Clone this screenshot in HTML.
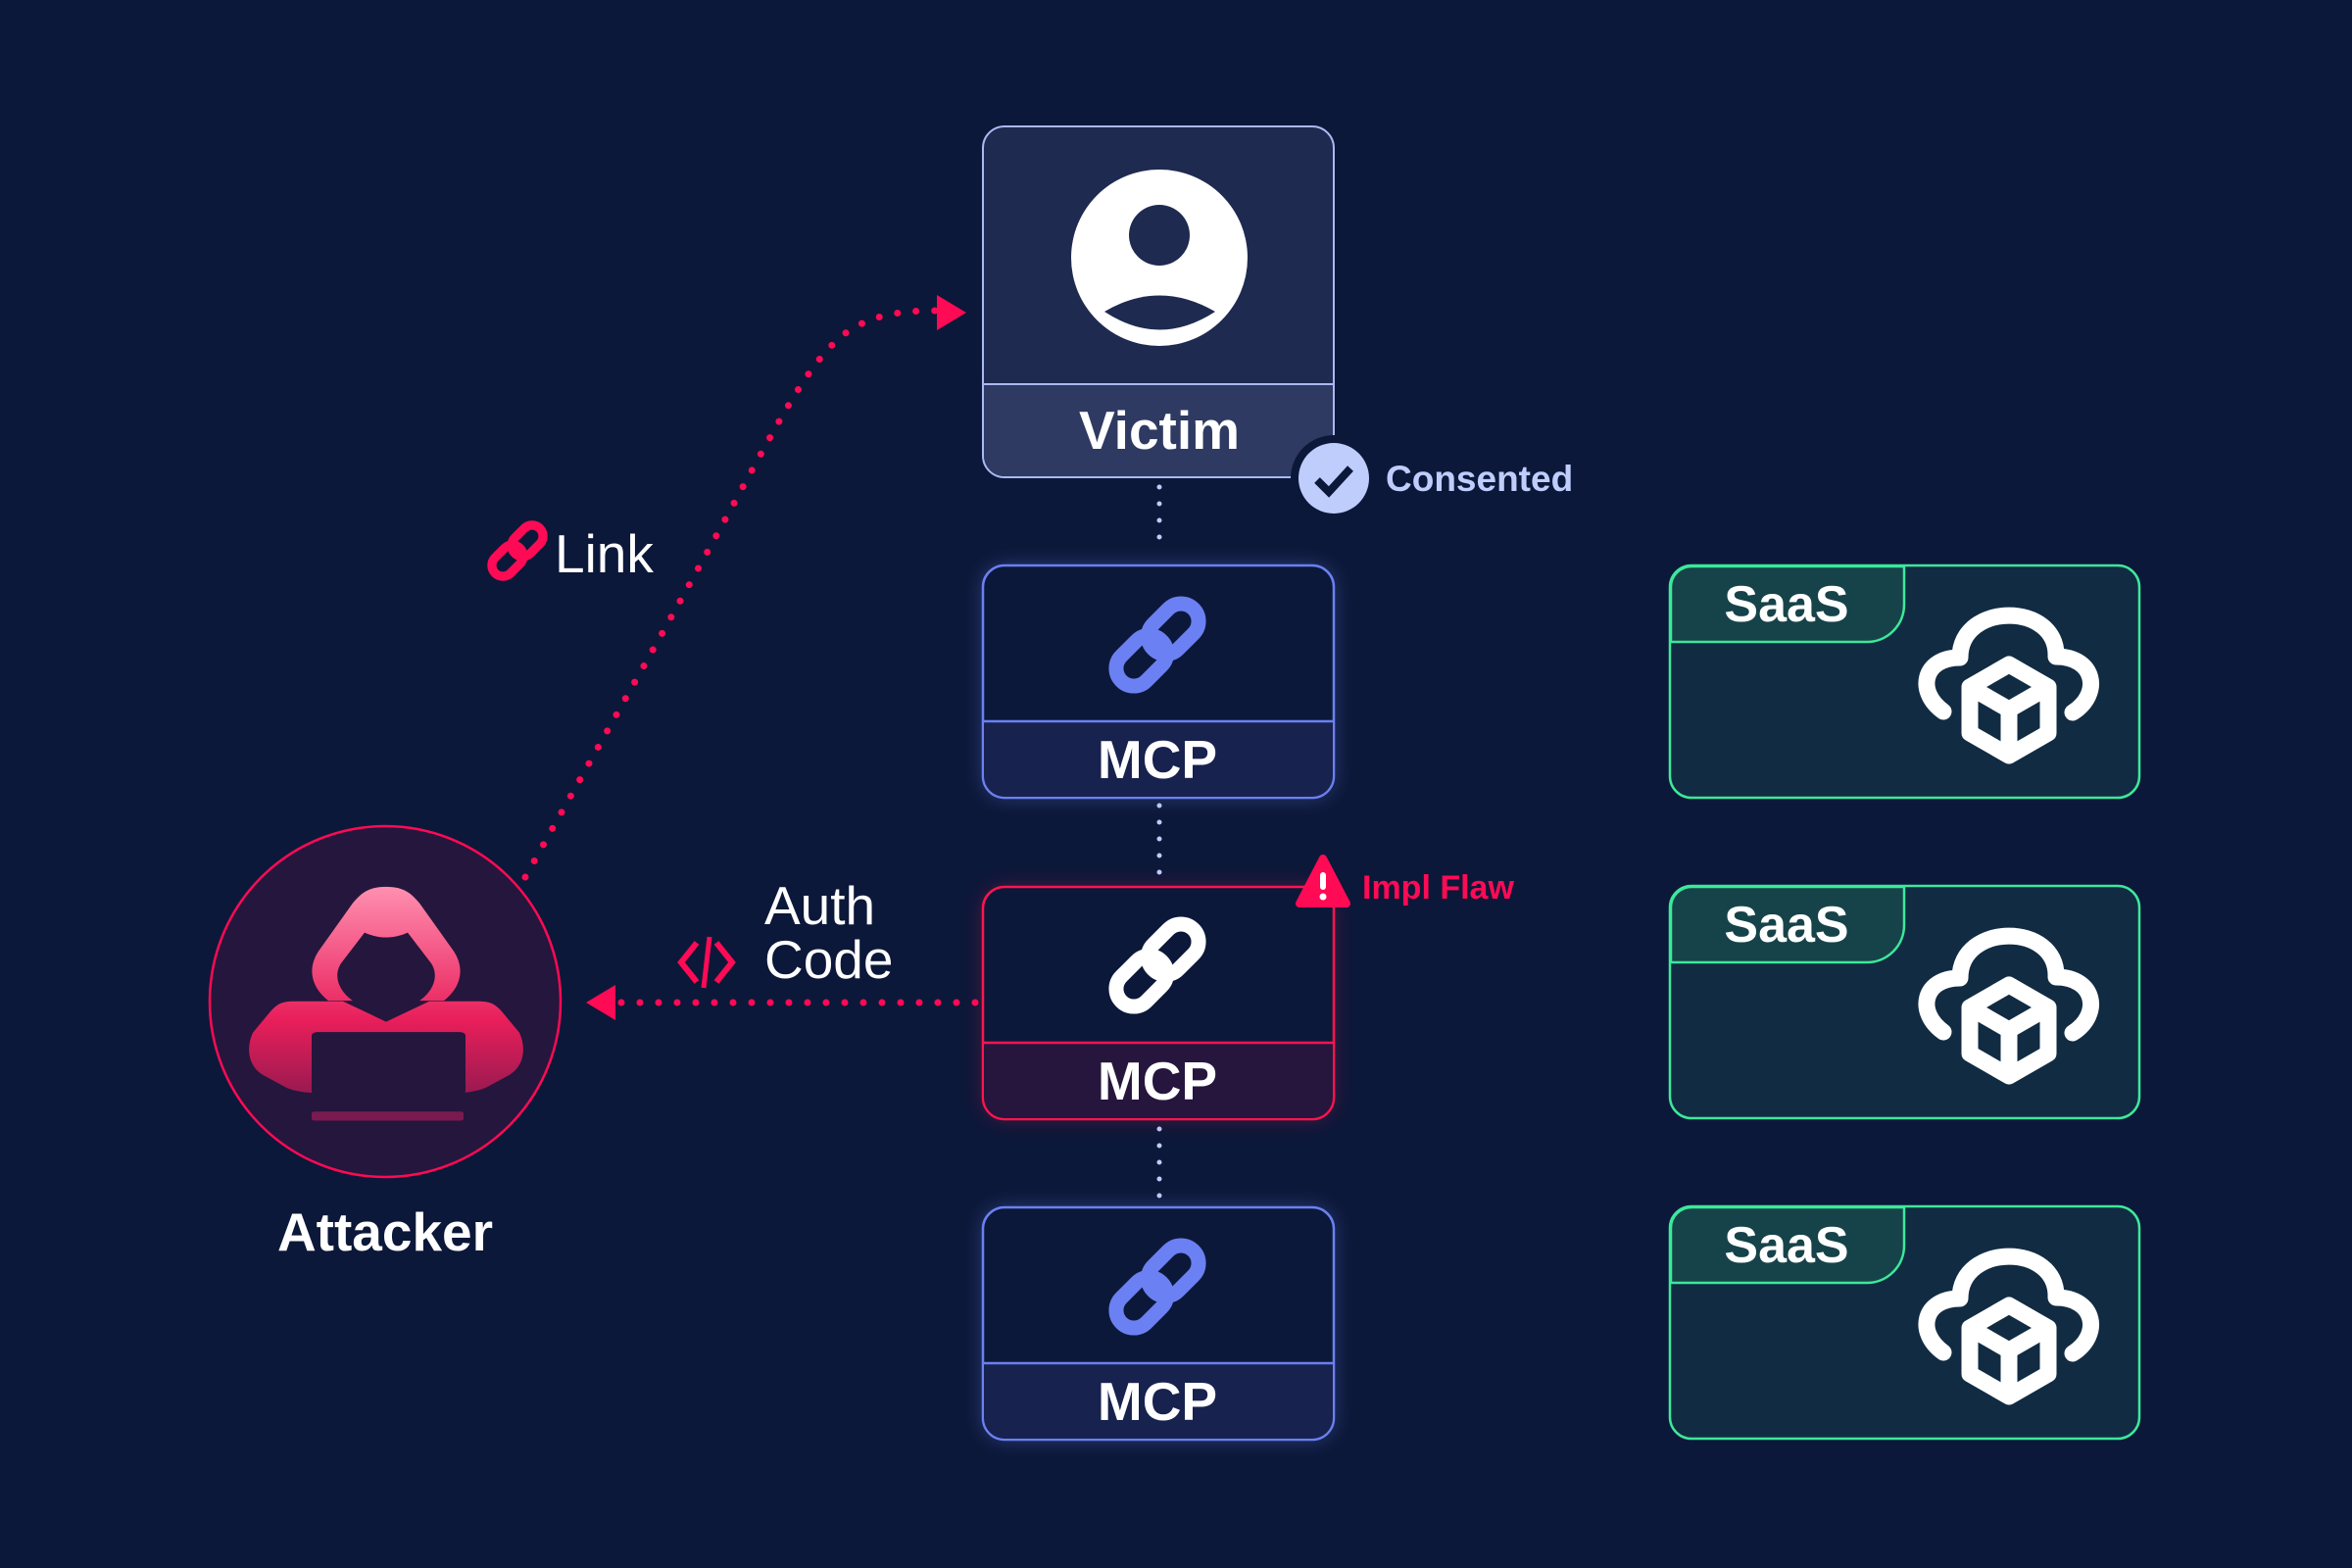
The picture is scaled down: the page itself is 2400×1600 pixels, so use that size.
<!DOCTYPE html>
<html><head><meta charset="utf-8"><style>
html,body{margin:0;padding:0;background:#0c1839;}
svg{display:block;}
text{font-family:"Liberation Sans",sans-serif;}
</style></head><body>
<svg width="2400" height="1600" viewBox="0 0 2400 1600" xmlns="http://www.w3.org/2000/svg">
<defs>
<linearGradient id="lb" x1="0" x2="1"><stop offset="0" stop-color="#6b80f2"/><stop offset="1" stop-color="#3de89a"/></linearGradient>
<linearGradient id="lr" x1="0" x2="1"><stop offset="0" stop-color="#ff1450"/><stop offset="1" stop-color="#3de89a"/></linearGradient>
<linearGradient id="hk" gradientUnits="userSpaceOnUse" x1="0" y1="958" x2="0" y2="1300"><stop offset="0" stop-color="#ff8fb0"/><stop offset="0.65" stop-color="#e81e5a"/><stop offset="1" stop-color="#9a1a50"/></linearGradient>
<filter id="glow" x="-20%" y="-20%" width="140%" height="140%"><feGaussianBlur stdDeviation="10"/></filter>
<g id="chain">
<rect x="-18" y="-52" width="36" height="58" rx="18" transform="rotate(45)" fill="none" stroke-width="15"/>
<rect x="-18" y="-6" width="36" height="58" rx="18" transform="rotate(45)" fill="none" stroke-width="15"/>
</g>
<g id="cloud" fill="none" stroke="#fff" stroke-width="17" stroke-linecap="round" stroke-linejoin="round">
<path d="M-67 30 C-95 10 -88 -25 -50 -25 C-50 -82 50 -82 48 -26 C88 -26 95 12 65 31"/>
<path d="M0 -18 L40 5 L40 52 L0 75 L-40 52 L-40 5 Z M-40 5 L0 28 L40 5 M0 28 L0 75" fill="#112b42"/>
</g>
</defs>

<!-- connectors -->
<line x1="1361" y1="697" x2="1704" y2="697" stroke="url(#lb)" stroke-width="2"/>
<line x1="1361" y1="1024" x2="1704" y2="1024" stroke="url(#lr)" stroke-width="2"/>
<line x1="1361" y1="1351" x2="1704" y2="1351" stroke="url(#lb)" stroke-width="2"/>
<g stroke="#bfcdfd" stroke-width="5" stroke-linecap="round" stroke-dasharray="0 17">
<line x1="1183" y1="497" x2="1183" y2="565"/>
<line x1="1183" y1="822" x2="1183" y2="900"/>
<line x1="1183" y1="1152" x2="1183" y2="1225"/>
</g>

<!-- Victim -->
<rect x="1003" y="129" width="358" height="358" rx="22" fill="#1f2a50" stroke="#aab9f0" stroke-width="2"/>
<path d="M1004 392 H1360 V465 a21 21 0 0 1 -21 21 H1025 a21 21 0 0 1 -21 -21 Z" fill="#2e3a62"/>
<line x1="1003" y1="392" x2="1361" y2="392" stroke="#aab9f0" stroke-width="2"/>
<circle cx="1183" cy="263" r="90" fill="#fff"/>
<circle cx="1183" cy="240" r="31" fill="#1f2a50"/>
<path d="M1127 318 Q1183 285 1240 318 Q1183 355 1127 318 Z" fill="#1f2a50"/>
<text x="1183" y="458" font-size="55" font-weight="bold" fill="#fff" text-anchor="middle">Victim</text>
<circle cx="1361" cy="488" r="44" fill="#0c1839"/>
<circle cx="1361" cy="488" r="36" fill="#bfcdfd"/>
<path d="M1344 490 L1356 502 L1378 478" fill="none" stroke="#0c1839" stroke-width="8"/>
<text x="1414" y="501" font-size="37" font-weight="bold" fill="#bfcdfd">Consented</text>

<!-- MCP boxes -->
<g>
<rect x="1003" y="577" width="358" height="237" rx="22" fill="#6b80f2" opacity="0.35" filter="url(#glow)"/>
<rect x="1003" y="577" width="358" height="237" rx="22" fill="#0c1839" stroke="#6b80f2" stroke-width="2.5"/>
<path d="M1004 736 H1360 V792 a21 21 0 0 1 -21 21 H1025 a21 21 0 0 1 -21 -21 Z" fill="#18224f"/>
<line x1="1003" y1="736" x2="1361" y2="736" stroke="#6b80f2" stroke-width="2.5"/>
<use href="#chain" x="1181" y="658" stroke="#6b80f2"/>
<text x="1181" y="794" font-size="55" font-weight="bold" fill="#fff" text-anchor="middle">MCP</text>
</g>
<g>
<rect x="1003" y="905" width="358" height="237" rx="22" fill="#ff1450" opacity="0.25" filter="url(#glow)"/>
<rect x="1003" y="905" width="358" height="237" rx="22" fill="#0c1839" stroke="#ff1450" stroke-width="2.5"/>
<path d="M1004 1064 H1360 V1120 a21 21 0 0 1 -21 21 H1025 a21 21 0 0 1 -21 -21 Z" fill="#26163d"/>
<line x1="1003" y1="1064" x2="1361" y2="1064" stroke="#ff1450" stroke-width="2.5"/>
<use href="#chain" x="1181" y="985" stroke="#fff"/>
<text x="1181" y="1122" font-size="55" font-weight="bold" fill="#fff" text-anchor="middle">MCP</text>
</g>
<g>
<rect x="1003" y="1232" width="358" height="237" rx="22" fill="#6b80f2" opacity="0.35" filter="url(#glow)"/>
<rect x="1003" y="1232" width="358" height="237" rx="22" fill="#0c1839" stroke="#6b80f2" stroke-width="2.5"/>
<path d="M1004 1391 H1360 V1447 a21 21 0 0 1 -21 21 H1025 a21 21 0 0 1 -21 -21 Z" fill="#18224f"/>
<line x1="1003" y1="1391" x2="1361" y2="1391" stroke="#6b80f2" stroke-width="2.5"/>
<use href="#chain" x="1181" y="1313" stroke="#6b80f2"/>
<text x="1181" y="1449" font-size="55" font-weight="bold" fill="#fff" text-anchor="middle">MCP</text>
</g>

<!-- Impl flaw -->
<path d="M1350 876 L1374 922 L1326 922 Z" fill="#ff0a54" stroke="#ff0a54" stroke-width="8" stroke-linejoin="round"/>
<rect x="1347" y="890" width="6" height="18" rx="3" fill="#fff"/>
<circle cx="1350" cy="915" r="3.5" fill="#fff"/>
<text x="1390" y="917" font-size="34" font-weight="bold" fill="#ff0a54">Impl Flaw</text>

<!-- SaaS boxes -->
<g id="saas">
<rect x="1704" y="577" width="479" height="237" rx="22" fill="#112b42" stroke="#3de89a" stroke-width="2.5"/>
<path d="M1705 655 V599 a21 21 0 0 1 21 -21 H1943 V617 a38 38 0 0 1 -38 38 Z" fill="#164349" stroke="#3de89a" stroke-width="2.5"/>
<text x="1823" y="634" font-size="52" font-weight="bold" fill="#fff" text-anchor="middle">SaaS</text>
<use href="#cloud" x="2050" y="696"/>
</g>
<use href="#saas" y="327"/>
<use href="#saas" y="654"/>

<!-- Attacker -->
<circle cx="393" cy="1022" r="179" fill="#25163d" stroke="#ff0a54" stroke-width="2.5"/>
<g transform="translate(0 820) scale(1 0.615) translate(0 -820)">
<path d="M394 958 C375 958 368 970 360 985 L325 1065 C313 1095 318 1125 335 1147 L360 1147 C345 1130 340 1105 348 1085 L372 1034 C380 1040 388 1042 394 1042 C400 1042 408 1040 416 1034 L440 1085 C448 1105 443 1130 428 1147 L453 1147 C470 1125 475 1095 463 1065 L428 985 C420 970 413 958 394 958 Z" fill="url(#hk)"/>
<path d="M300 1148 L350 1148 L394 1182 L438 1148 L488 1148 C500 1148 505 1152 512 1165 L530 1200 C537 1225 535 1255 520 1270 L495 1292 C485 1298 475 1300 465 1300 L323 1300 C313 1300 303 1298 293 1292 L268 1270 C253 1255 251 1225 258 1200 L276 1165 C283 1152 288 1148 300 1148 Z" fill="url(#hk)"/>
<rect x="318" y="1199" width="157" height="104" rx="6" fill="#25163d"/>
<rect x="318" y="1331" width="155" height="15" rx="3" fill="#7a1a50"/>
</g>
<text x="393" y="1276" font-size="55" font-weight="bold" fill="#fff" text-anchor="middle">Attacker</text>

<!-- Auth code arrow -->
<line x1="995" y1="1023" x2="630" y2="1023" stroke="#ff0a54" stroke-width="7" stroke-linecap="round" stroke-dasharray="0 19"/>
<path d="M598 1023 L628 1005 L628 1041 Z" fill="#ff0a54"/>
<text x="780" y="943" font-size="55" fill="#fff">Auth</text>
<text x="780" y="998" font-size="55" fill="#fff">Code</text>
<path d="M711 962 L695 982 L711 1002 M731 962 L747 982 L731 1002" fill="none" stroke="#ff0a54" stroke-width="6"/>
<line x1="724" y1="956" x2="718" y2="1008" stroke="#ff0a54" stroke-width="5"/>

<!-- Link arrow -->
<path d="M536 895 C600 780 680 640 740 530 C800 420 830 360 870 335 C900 318 930 317 958 317" fill="none" stroke="#ff0a54" stroke-width="7" stroke-linecap="round" stroke-dasharray="0 19"/>
<path d="M986 319 L956 301 L956 337 Z" fill="#ff0a54"/>
<g transform="translate(528 562) scale(0.62)"><use href="#chain" stroke="#ff0a54"/></g>
<text x="566" y="584" font-size="55" fill="#fff">Link</text>
</svg>
</body></html>
